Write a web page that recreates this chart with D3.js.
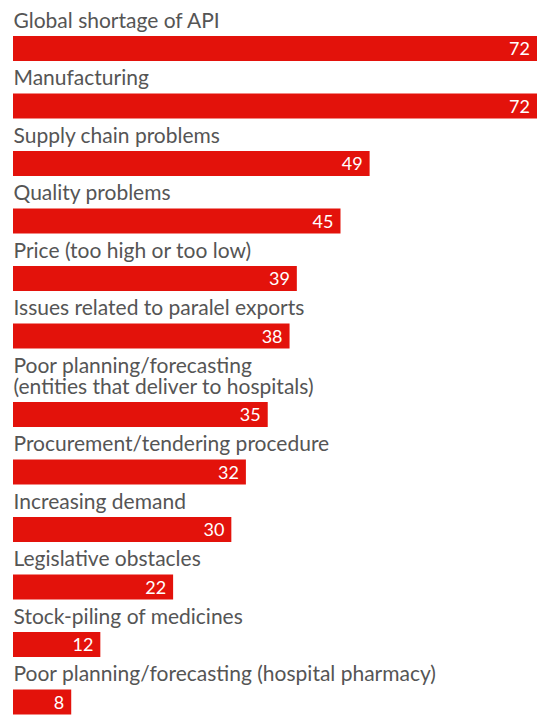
<!DOCTYPE html>
<html>
<head>
<meta charset="utf-8">
<script src="https://cdn.jsdelivr.net/npm/d3@7"></script>
<style>
  body { margin: 0; background: #fff; }
  text { font-family: Lato, "Open Sans", sans-serif; }
</style>
</head>
<body>
<svg id="chart" width="549" height="715"></svg>
<script>
// causes of shortages, label lines split where the picture wraps
var categories = [
	["Global shortage of API"],
	["Manufacturing"],
	["Supply chain problems"],
	["Quality problems"],
	["Price (too high or too low)"],
	["Issues related to paralel exports"],
	["Poor planning/forecasting", "(entities that deliver to hospitals)"],
	["Procurement/tendering procedure"],
	["Increasing demand"],
	["Legislative obstacles"],
	["Stock-piling of medicines"],
	["Poor planning/forecasting (hospital pharmacy)"]
];
var values = [72, 72, 49, 45, 39, 38, 35, 32, 30, 22, 12, 8];

var svg = d3.select("#chart");
var line_h = 21;
var bar_h = 25;
var pitch = 57.5;

var x = d3.scaleLinear()
	.domain([0, 72])
	.range([13, 537]);

// stack rows: label lines then bar
var rows = [];
var bar_top = 36 - pitch;
categories.forEach(function(lines, i){
	bar_top += pitch + (lines.length - 1) * line_h;
	rows.push({lines: lines, value: values[i], bar_top: bar_top});
});

var g = svg.selectAll("g.row")
	.data(rows)
	.enter().append("g")
	.attr("class", "row");

// one text per label, extra lines as tspans
g.append("text")
	.attr("fill", "#555")
	.attr("font-size", 21)
	.each(function(d){
		var t = d3.select(this);
		var n = d.lines.length;
		d.lines.forEach(function(l, k){
			t.append("tspan")
				.attr("x", 13.5)
				.attr("y", d.bar_top - 8.5 - (n - 1 - k) * line_h)
				.text(l);
		});
	});

g.append("rect")
	.attr("x", x(0))
	.attr("y", function(d){ return d.bar_top; })
	.attr("width", function(d){ return x(d.value) - x(0); })
	.attr("height", bar_h)
	.attr("fill", "#e3120b");

g.append("text")
	.attr("x", function(d){ return x(d.value) - 7; })
	.attr("y", function(d){ return d.bar_top + 19; })
	.attr("text-anchor", "end")
	.attr("fill", "#fff")
	.attr("font-size", 18)
	.text(function(d){ return d.value; });
</script>
</body>
</html>
